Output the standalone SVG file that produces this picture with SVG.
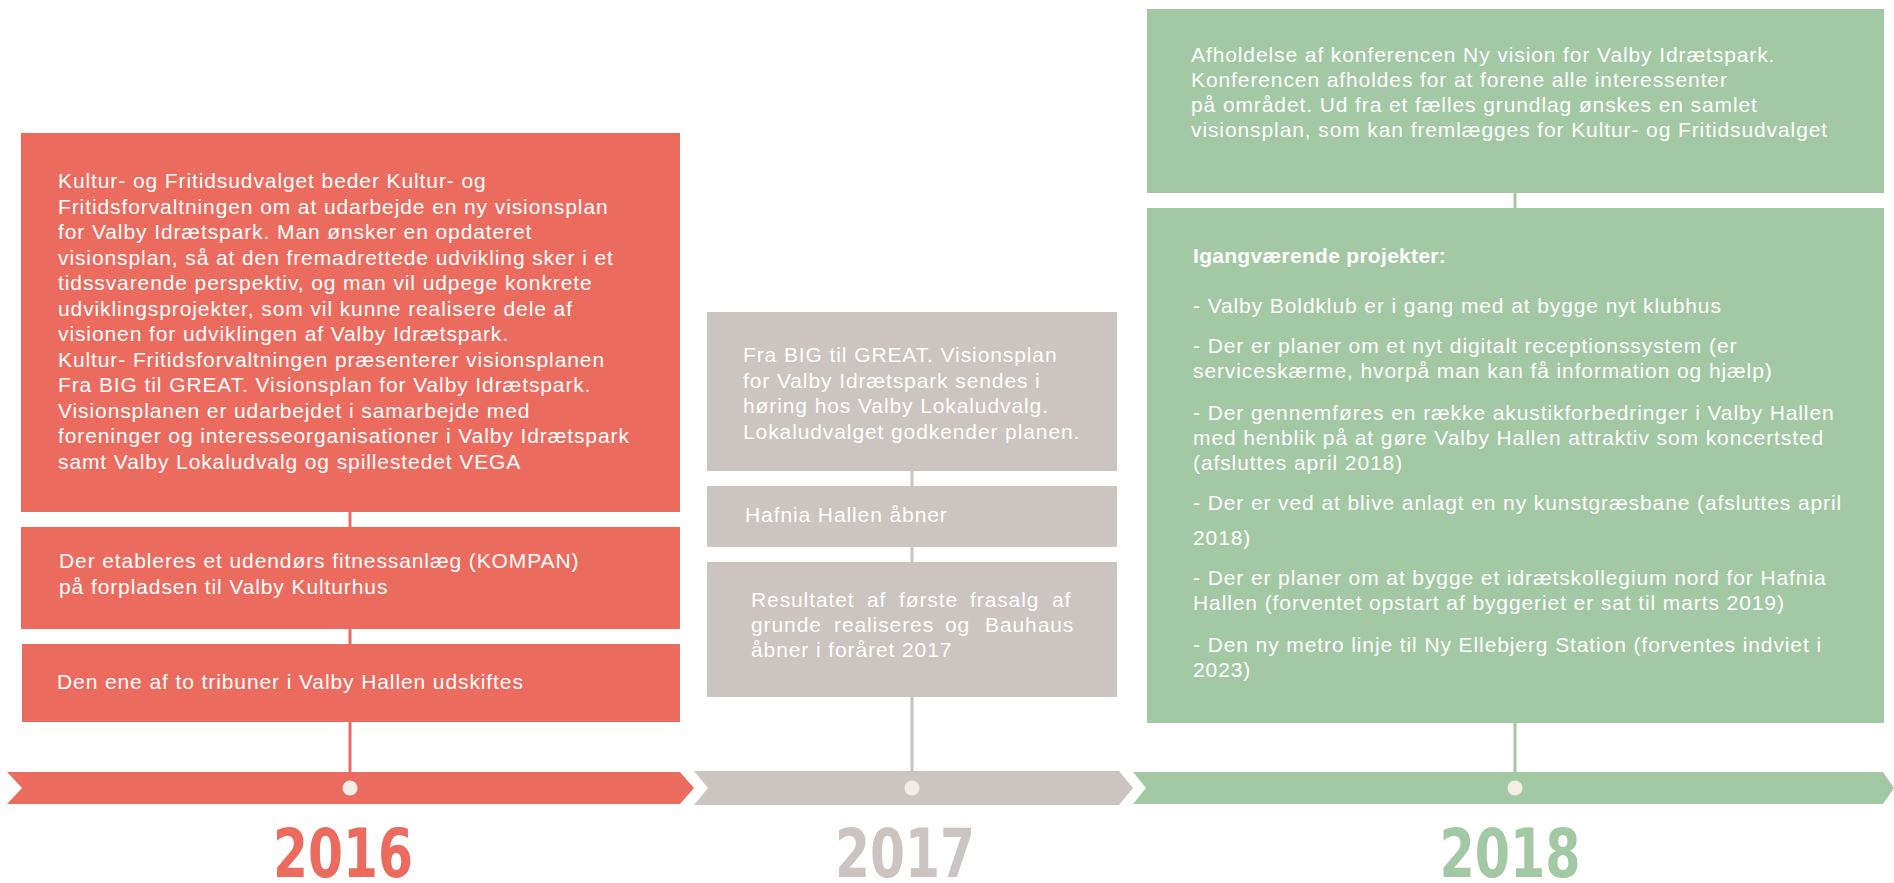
<svg xmlns="http://www.w3.org/2000/svg" width="1894" height="883" viewBox="0 0 1894 883">
<style>
.red{fill:#EB6C5F}
.gray{fill:#CBC4C0}
.green{fill:#A3C8A4}
.t{font-family:"Liberation Sans",Arial,sans-serif;font-size:21px;fill:#FFFFFF;letter-spacing:0.9px}
.tb{font-family:"Liberation Sans",Arial,sans-serif;font-size:21px;font-weight:bold;fill:#FFFFFF;letter-spacing:0.3px}
.yr{font-family:"DejaVu Sans Condensed","DejaVu Sans",sans-serif;font-weight:bold;font-size:67px;text-anchor:middle}
.dot{fill:#F6EEE4}
</style>
<rect width="1894" height="883" fill="#FFFFFF"/>
<g id="connectors">
<line x1="350" y1="140" x2="350" y2="775" stroke="#EB6C5F" stroke-width="3"/>
<line x1="912" y1="320" x2="912" y2="775" stroke="#CBC4C0" stroke-width="3"/>
<line x1="1515" y1="20" x2="1515" y2="775" stroke="#A3C8A4" stroke-width="3"/>
</g>
<g id="timeline-2016">
<polygon class="red" points="7,772 680,772 694,788 680,804 7,804 22,788"/>
<circle class="dot" cx="350" cy="788" r="7.5"/>
<text class="yr red" x="343" y="877" textLength="140" lengthAdjust="spacingAndGlyphs">2016</text>
</g>
<g id="timeline-2017">
<polygon class="gray" points="694,771 1119,771 1133,788 1119,805 694,805 708,788"/>
<circle class="dot" cx="912" cy="788" r="7.5"/>
<text class="yr gray" x="905" y="877" textLength="140" lengthAdjust="spacingAndGlyphs">2017</text>
</g>
<g id="timeline-2018">
<polygon class="green" points="1133,772 1883,772 1894,788 1883,804 1133,804 1146,788"/>
<circle class="dot" cx="1515" cy="788" r="7.5"/>
<text class="yr green" x="1510" y="877" textLength="141" lengthAdjust="spacingAndGlyphs">2018</text>
</g>
<g id="node-2016-1">
<rect class="red" x="21" y="133" width="659" height="379"/>
<text class="t" x="58" y="188">Kultur- og Fritidsudvalget beder Kultur- og</text>
<text class="t" x="58" y="213.5">Fritidsforvaltningen om at udarbejde en ny visionsplan</text>
<text class="t" x="58" y="239">for Valby Idrætspark. Man ønsker en opdateret</text>
<text class="t" x="58" y="264.5">visionsplan, så at den fremadrettede udvikling sker i et</text>
<text class="t" x="58" y="290">tidssvarende perspektiv, og man vil udpege konkrete</text>
<text class="t" x="58" y="315.5">udviklingsprojekter, som vil kunne realisere dele af</text>
<text class="t" x="58" y="341">visionen for udviklingen af Valby Idrætspark.</text>
<text class="t" x="58" y="366.5">Kultur- Fritidsforvaltningen præsenterer visionsplanen</text>
<text class="t" x="58" y="392">Fra BIG til GREAT. Visionsplan for Valby Idrætspark.</text>
<text class="t" x="58" y="417.5">Visionsplanen er udarbejdet i samarbejde med</text>
<text class="t" x="58" y="443">foreninger og interesseorganisationer i Valby Idrætspark</text>
<text class="t" x="58" y="468.5">samt Valby Lokaludvalg og spillestedet VEGA</text>
</g>
<g id="node-2016-2">
<rect class="red" x="21" y="527" width="659" height="102"/>
<text class="t" x="59" y="568">Der etableres et udendørs fitnessanlæg (KOMPAN)</text>
<text class="t" x="59" y="593.5">på forpladsen til Valby Kulturhus</text>
</g>
<g id="node-2016-3">
<rect class="red" x="22" y="644" width="658" height="78"/>
<text class="t" x="57" y="689">Den ene af to tribuner i Valby Hallen udskiftes</text>
</g>
<g id="node-2017-1">
<rect class="gray" x="707" y="312" width="410" height="159"/>
<text class="t" x="743" y="362">Fra BIG til GREAT. Visionsplan</text>
<text class="t" x="743" y="387.5">for Valby Idrætspark sendes i</text>
<text class="t" x="743" y="413">høring hos Valby Lokaludvalg.</text>
<text class="t" x="743" y="438.5">Lokaludvalget godkender planen.</text>
</g>
<g id="node-2017-2">
<rect class="gray" x="707" y="486" width="410" height="61"/>
<text class="t" x="745" y="522">Hafnia Hallen åbner</text>
</g>
<g id="node-2017-3">
<rect class="gray" x="707" y="562" width="410" height="135"/>
<text class="t" y="607"><tspan x="751">Resultatet</tspan><tspan x="867">af</tspan><tspan x="899">første</tspan><tspan x="970">frasalg</tspan><tspan x="1052">af</tspan></text>
<text class="t" y="632"><tspan x="751">grunde</tspan><tspan x="834">realiseres</tspan><tspan x="945">og</tspan><tspan x="985">Bauhaus</tspan></text>
<text class="t" x="751" y="657">åbner i foråret 2017</text>
</g>
<g id="node-2018-1">
<rect class="green" x="1147" y="9" width="737" height="184"/>
<text class="t" x="1191" y="62">Afholdelse af konferencen Ny vision for Valby Idrætspark.</text>
<text class="t" x="1191" y="87">Konferencen afholdes for at forene alle interessenter</text>
<text class="t" x="1191" y="112">på området. Ud fra et fælles grundlag ønskes en samlet</text>
<text class="t" x="1191" y="137">visionsplan, som kan fremlægges for Kultur- og Fritidsudvalget</text>
</g>
<g id="node-2018-2">
<rect class="green" x="1147" y="208" width="737" height="515"/>
<text class="tb" x="1193" y="263">Igangværende projekter:</text>
<text class="t" x="1193" y="313">- Valby Boldklub er i gang med at bygge nyt klubhus</text>
<text class="t" x="1193" y="353">- Der er planer om et nyt digitalt receptionssystem (er</text>
<text class="t" x="1193" y="378">serviceskærme, hvorpå man kan få information og hjælp)</text>
<text class="t" x="1193" y="420">- Der gennemføres en række akustikforbedringer i Valby Hallen</text>
<text class="t" x="1193" y="445">med henblik på at gøre Valby Hallen attraktiv som koncertsted</text>
<text class="t" x="1193" y="470">(afsluttes april 2018)</text>
<text class="t" x="1193" y="510">- Der er ved at blive anlagt en ny kunstgræsbane (afsluttes april</text>
<text class="t" x="1193" y="545">2018)</text>
<text class="t" x="1193" y="585">- Der er planer om at bygge et idrætskollegium nord for Hafnia</text>
<text class="t" x="1193" y="610">Hallen (forventet opstart af byggeriet er sat til marts 2019)</text>
<text class="t" x="1193" y="652">- Den ny metro linje til Ny Ellebjerg Station (forventes indviet i</text>
<text class="t" x="1193" y="677">2023)</text>
</g>
</svg>
